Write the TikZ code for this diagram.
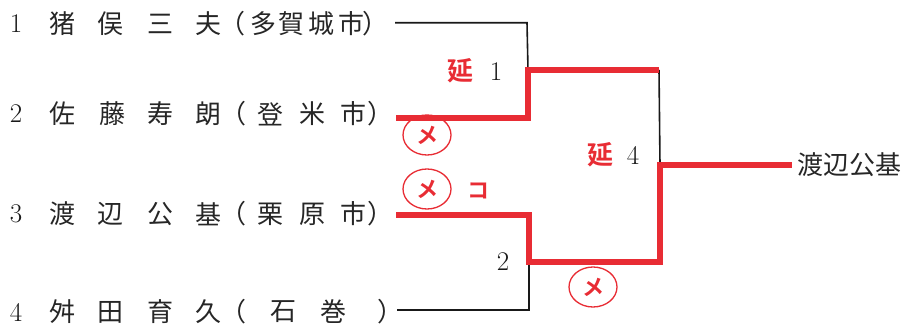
\documentclass[tikz,border=0pt]{standalone}
\usepackage{fontspec}
\newfontfamily\cjk{Noto Sans CJK JP}
\newfontfamily\cjkb{Noto Sans CJK JP Bold}
\usetikzlibrary{shapes.geometric}
\definecolor{redink}{RGB}{232,44,52}
\begin{document}
\begin{tikzpicture}[x=1pt,y=-1pt,
  nm/.style={inner sep=0pt,font=\cjk\fontsize{26}{26}\selectfont,text=black!85},
  num/.style={inner sep=0pt,font=\fontsize{27}{27}\selectfont,text=black!90},
  enn/.style={inner sep=0pt,font=\cjkb\fontsize{26}{26}\selectfont,text=redink},
  ko/.style={inner sep=0pt,font=\cjkb\fontsize{22}{22}\selectfont,text=redink},
  me/.style={ellipse,draw=redink,line width=1.3pt,minimum width=48pt,minimum height=40pt,inner sep=0pt,font=\cjkb\fontsize{22}{22}\selectfont,text=redink},
  blk/.style={line width=1.6pt,black!90},
  red/.style={line width=6pt,redink,line join=miter}]
\useasboundingbox (0,0) rectangle (915,332);
% row 1
\node[num] (n1) at (16,24) {1};
\foreach \ch/\xx [count=\i] in {猪/62,俣/110,三/160,夫/208,（/232,多/263,賀/291,城/321,市/351,）/375}
  \node[nm] (a\i) at (\xx,24) {\ch};
% row 2
\node[num] (n2) at (16,114) {2};
\foreach \ch/\xx [count=\i] in {佐/62,藤/112,寿/160,朗/208,（/233,登/270,米/312,市/353,）/380}
  \node[nm] (b\i) at (\xx,114) {\ch};
% row 3
\node[num] (n3) at (16,214) {3};
\foreach \ch/\xx [count=\i] in {渡/62,辺/110,公/160,基/208,（/233,栗/270,原/312,市/353,）/380}
  \node[nm] (c\i) at (\xx,214) {\ch};
% row 4
\node[num] (n4) at (16,312) {4};
\foreach \ch/\xx [count=\i] in {舛/62,田/110,育/160,久/208,（/233,石/283,巻/333,）/390}
  \node[nm] (d\i) at (\xx,312) {\ch};
% bracket points
\coordinate (p1) at (395,22.7);
\coordinate (q1) at (527,22.7);
\coordinate (p2) at (396,118);
\coordinate (q2) at (528,118);
\coordinate (m1) at (528,70);
\coordinate (m1r) at (659,70);
\coordinate (p3) at (396,215);
\coordinate (q3) at (529,215);
\coordinate (p4) at (397,310);
\coordinate (q4) at (529,310);
\coordinate (m2) at (529,262);
\coordinate (m2r) at (660,262);
\coordinate (f) at (660,165);
\coordinate (fr) at (792,165);
% black lines
\draw[blk] (p1) -- (q1) -- (m1);
\draw[blk] (p4) -- (q4) -- (m2);
\draw[blk] (m1r) -- (f);
% red lines
\draw[red] (p2) -- (q2) -- (m1) -- (m1r);
\draw[red] (p3) -- (q3) -- (m2) -- (m2r) -- (f) -- (fr);
% winner
\node[nm,anchor=west] (w) at (797,165) {渡辺公基};
% labels
\node[enn] (e1) at (460,71) {延};
\node[num] (l1) at (496,72) {1};
\node[enn] (e4) at (600,155) {延};
\node[num] (l4) at (633,155) {4};
\node[num] (l2) at (503,262) {2};
\node[ko] (k) at (478,191) {コ};
\node[me] (me1) at (427,135) {メ};
\node[me] (me2) at (427,189) {メ};
\node[me] (me3) at (593,287) {メ};
\end{tikzpicture}
\end{document}
